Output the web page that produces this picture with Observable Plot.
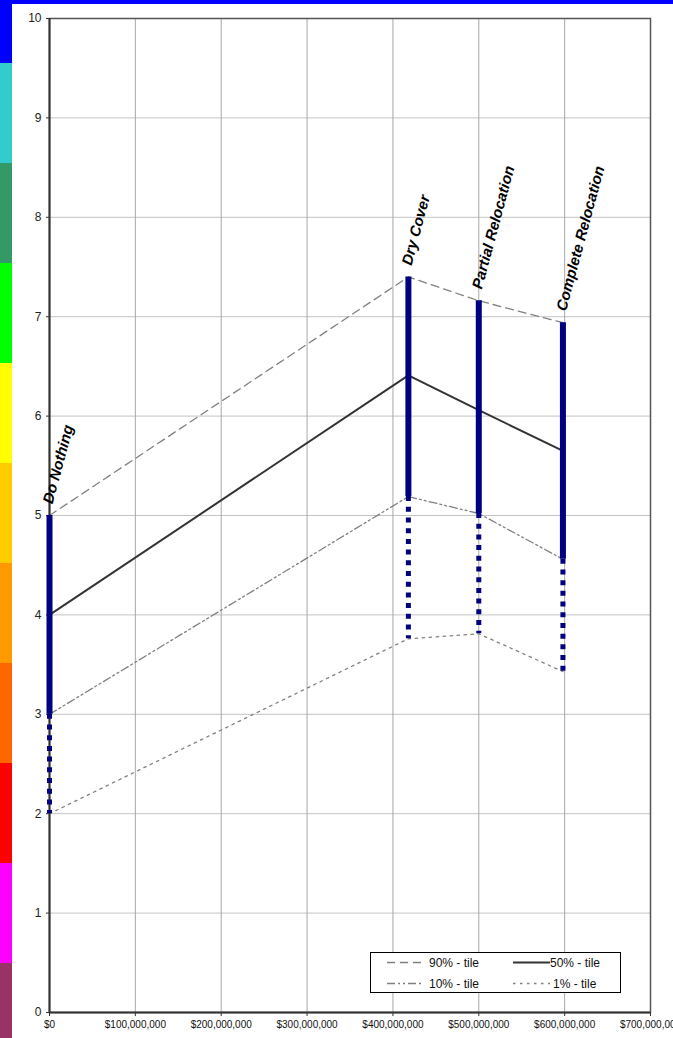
<!DOCTYPE html>
<html>
<head>
<meta charset="utf-8">
<script src="https://cdn.jsdelivr.net/npm/d3@7"></script>
<script src="https://cdn.jsdelivr.net/npm/@observablehq/plot@0.6"></script>
<style>
  html, body { margin: 0; padding: 0; background: #fff; overflow: hidden; }
  #wrap { position: relative; width: 673px; height: 1038px; overflow: hidden; font-family: "Liberation Sans", Arial, sans-serif; }
  #wrap svg.plotsvg { position: absolute; left: 0; top: 0; }
  .deco { position: absolute; z-index: 5; }
  #legend { position: absolute; left: 370px; top: 952px; z-index: 6; }
</style>
</head>
<body>
<div id="wrap"></div>
<script>
// ---- data ----
const alternatives = ["Do Nothing", "Dry Cover", "Partial Relocation", "Complete Relocation"];
const cost = [0, 418e6, 500e6, 598e6];
const p90 = [5.0, 7.40, 7.16, 6.94];
const p50 = [4.0, 6.41, 6.06, 5.65];
const p10 = [3.0, 5.19, 5.02, 4.56];
const p01 = [2.0, 3.76, 3.81, 3.43];
const xTicks = [0, 100e6, 200e6, 300e6, 400e6, 500e6, 600e6, 700e6];
const yTicks = [0, 1, 2, 3, 4, 5, 6, 7, 8, 9, 10];
const legendLabels = ["90% - tile", "50% - tile", "10% - tile", "1% - tile"];
const stripColors = ["#0000FF", "#33CCCC", "#339966", "#00FF00", "#FFFF00", "#FFCC00", "#FF9900", "#FF6600", "#FF0000", "#FF00FF", "#993366"];

const rows = alternatives.map((a, i) => ({alt: a, cost: cost[i], p90: p90[i], p50: p50[i], p10: p10[i], p01: p01[i]}));
const seriesDefs = [
  {key: "p90", label: legendLabels[0], stroke: "#808080", width: 1.3, dash: "8,5"},
  {key: "p50", label: legendLabels[1], stroke: "#333333", width: 2, dash: null},
  {key: "p10", label: legendLabels[2], stroke: "#808080", width: 1.3, dash: "8,3,2,3,2,3"},
  {key: "p01", label: legendLabels[3], stroke: "#808080", width: 1.3, dash: "2.5,4.5"}
];

const navy = "#000080";
const fmt = d3.format("$,");

const chart = Plot.plot({
  width: 673,
  height: 1038,
  marginLeft: 49,
  marginRight: 23,
  marginTop: 18,
  marginBottom: 26,
  style: {fontFamily: "'Liberation Sans', Arial, sans-serif", background: "transparent", overflow: "hidden"},
  x: {domain: [0, 700e6], label: null},
  y: {domain: [0, 10], label: null},
  marks: [
    Plot.ruleY(yTicks.filter(d => d > 0 && d < 10), {y: d => d, stroke: "#c4c4c4", strokeWidth: 1}),
    Plot.ruleX(xTicks.filter(d => d > 0 && d < 700e6), {x: d => d, stroke: "#a8a8a8", strokeWidth: 1}),
    Plot.frame({stroke: "#555", strokeWidth: 1.5}),
    Plot.axisX({ticks: xTicks, tickSize: 4, tickPadding: 4, tickFormat: fmt, fontSize: 10, stroke: "#333", fill: "#111", label: null}),
    Plot.axisY({ticks: yTicks, tickSize: 3, tickPadding: 5, fontSize: 12, stroke: "#333", fill: "#222", label: null}),
    ...seriesDefs.map(s => Plot.line(rows, {x: "cost", y: s.key, stroke: s.stroke, strokeWidth: s.width, strokeDasharray: s.dash ?? undefined})),
    Plot.ruleX([0], {stroke: "#333", strokeWidth: 2}),
    Plot.ruleY([0], {stroke: "#333", strokeWidth: 2}),
    Plot.ruleX(rows, {x: "cost", y1: "p10", y2: "p01", stroke: navy, strokeWidth: 5, strokeDasharray: "5,5.7"}),
    Plot.ruleX(rows, {x: "cost", y1: "p10", y2: "p90", stroke: navy, strokeWidth: 6}),
    Plot.text(rows, {x: "cost", y: "p90", text: "alt", rotate: -75, textAnchor: "start", lineAnchor: "bottom",
      dx: 3, dy: -11, fontSize: 15, fontWeight: "bold", fontStyle: "italic", fill: "#000"})
  ]
});
chart.classList.add("plotsvg");
const wrap = document.getElementById("wrap");
wrap.appendChild(chart);

// ---- decorative border strips ----
stripColors.forEach((c, i) => {
  const d = document.createElement("div");
  d.className = "deco";
  const top = i === 0 ? 0 : 63 + (i - 1) * 100;
  const h = i === 0 ? 63 : (i === stripColors.length - 1 ? 1038 - top : 100);
  Object.assign(d.style, {left: "0px", top: top + "px", width: "12px", height: h + "px", background: c});
  wrap.appendChild(d);
});
const topBar = document.createElement("div");
topBar.className = "deco";
Object.assign(topBar.style, {left: "0px", top: "0px", width: "673px", height: "4px", background: stripColors[0]});
wrap.appendChild(topBar);

// ---- legend ----
const lw = 251, lh = 41;
const leg = d3.select(wrap).append("svg").attr("id", "legend").attr("width", lw).attr("height", lh);
leg.append("rect").attr("x", 0.5).attr("y", 0.5).attr("width", lw - 1).attr("height", lh - 1)
  .attr("fill", "#fff").attr("stroke", "#000").attr("stroke-width", 1);
const slots = [
  {sx1: 17, sx2: 53, tx: 59, y: 10.5},
  {sx1: 143, sx2: 180, tx: 180, y: 10.5},
  {sx1: 17, sx2: 53, tx: 59, y: 31.5},
  {sx1: 143, sx2: 180, tx: 183, y: 31.5}
];
seriesDefs.forEach((s, i) => {
  const p = slots[i];
  leg.append("line").attr("x1", p.sx1).attr("x2", p.sx2).attr("y1", p.y).attr("y2", p.y)
    .attr("stroke", s.stroke).attr("stroke-width", s.width).attr("stroke-dasharray", s.dash);
  leg.append("text").attr("x", p.tx).attr("y", p.y).attr("dy", "0.35em")
    .attr("font-family", "'Liberation Sans', Arial, sans-serif").attr("font-size", 12).attr("fill", "#111")
    .text(s.label);
});
</script>
</body>
</html>
